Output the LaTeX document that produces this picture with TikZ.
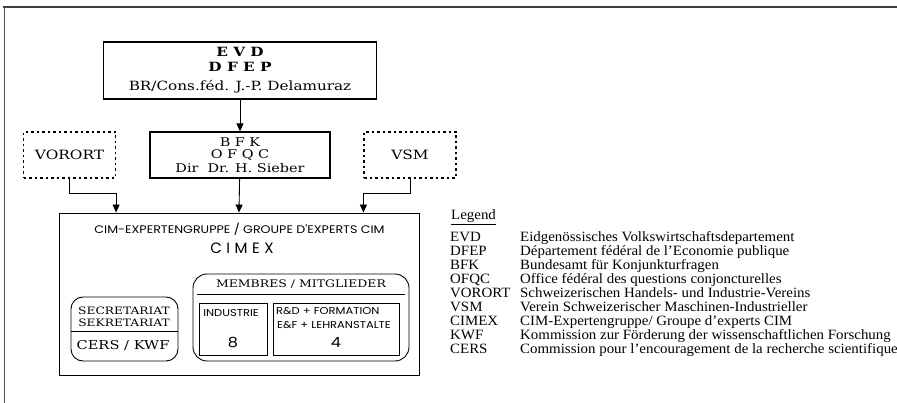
\documentclass[tikz,border=0pt]{standalone}
\usepackage{fontspec}
\setmainfont[FakeStretch=1.05]{Liberation Serif}
\newfontfamily\boxfont[FakeStretch=1.2]{DejaVu Serif}
\newfontfamily\geofont[FakeStretch=1.15]{Poppins}
\newfontfamily\geowide[LetterSpace=30]{Poppins}
\usetikzlibrary{arrows.meta}

\begin{document}
\begin{tikzpicture}[x=1pt,y=-1pt,
  dashbox/.style={draw,dash pattern=on 2.5pt off 3pt,line width=1.2pt,minimum width=92pt,minimum height=46pt,inner sep=0pt},
  link/.style={-{Triangle[length=8pt,width=7pt]},line width=0.9pt},
  legitem/.style={anchor=base west,inner sep=0pt,font=\fontsize{14.2}{15}\selectfont}]
\useasboundingbox (0,0) rectangle (897,403);
% frame
\draw[line width=1.6pt,black!75] (3,7) -- (897,7);
\draw[line width=0.8pt,black!70] (4,7) -- (4,403);

% top of the chart
\node[draw,line width=1.6pt,minimum width=273pt,minimum height=57pt,align=center,font=\boxfont\fontsize{12.7}{15}\selectfont] (evd) at (240,70.5) {\textbf{E V D}\\ \textbf{D F E P}\\[4pt] BR/Cons.féd. J.-P. Delamuraz};
\node[draw,line width=1.2pt,minimum width=180pt,minimum height=46pt,align=center,font=\boxfont\fontsize{12}{12}\selectfont] (bfk) at (240,155) {B F K\\ O F Q C\\[2.5pt] Dir\ \ Dr. H. Sieber};
\node[dashbox,font=\boxfont\fontsize{12.8}{14}\selectfont] (vorort) at (69.5,155) {VORORT};
\node[dashbox,font=\boxfont\fontsize{12.8}{14}\selectfont] (vsm) at (410,155) {VSM};

% CIMEX
\node[draw,line width=0.9pt,minimum width=360pt,minimum height=162pt] (cimex) at (239,294) {};
\node[font=\geofont\fontsize{11}{12}\selectfont] (cimtitle) at (239.5,229) {CIM-EXPERTENGRUPPE / GROUPE D'EXPERTS CIM};
\node[font=\geowide\fontsize{15}{18}\selectfont] (cimname) at (242,248) {CIMEX};

\node[draw,rounded corners=12pt,line width=0.9pt,minimum width=107pt,minimum height=64pt] (secr) at (124.5,329) {};
\draw[line width=0.8pt] ([yshift=-2pt]secr.west) -- ([yshift=-2pt]secr.east);
\node[font=\boxfont\fontsize{10.2}{11}\selectfont] (secrfr) at (124,311) {SECRETARIAT};
\node[font=\boxfont\fontsize{10.2}{11}\selectfont] (secrde) at (124,323) {SEKRETARIAT};
\node[font=\boxfont\fontsize{12.2}{14}\selectfont] (cers) at (123,346) {CERS / KWF};

\node[draw,rounded corners=14pt,line width=0.9pt,minimum width=216pt,minimum height=87pt] (members) at (301,317.5) {};
\node[font=\boxfont\fontsize{10.4}{11}\selectfont] (memtitle) at (301,284) {MEMBRES / MITGLIEDER};
\draw[line width=0.8pt] (197,294) -- (405,294);
\node[draw,line width=0.8pt,minimum width=68pt,minimum height=52pt] (indus) at (233,329) {};
\node[font=\geofont\fontsize{10}{10}\selectfont] (industxt) at (231,313) {INDUSTRIE};
\node[font=\geofont\fontsize{14}{15}\selectfont] (indusnum) at (233,343) {8};
\node[draw,line width=0.8pt,minimum width=126pt,minimum height=52pt] (rd) at (336,329) {};
\node[anchor=west,inner sep=0pt,font=\geofont\fontsize{10}{10}\selectfont] (rdtxt) at (276,311) {R\&D + FORMATION};
\node[anchor=west,inner sep=0pt,font=\geofont\fontsize{10}{10}\selectfont] (eftxt) at (277,325) {E\&F + LEHRANSTALTE};
\node[font=\geofont\fontsize{14}{15}\selectfont] (rdnum) at (336,342) {4};

% arrows
\draw[link] (evd) -- (bfk);
\draw[link] (bfk) -- (cimex.north);
\draw[link] (vorort.south) -- ++(0,15) -| (cimex.north -| vorort.east);
\draw[link] (vsm.south) -- ++(0,15) -| (cimex.north -| vsm.west);

% legend
\node[legitem] (legend) at (451,220) {\underline{Legend}};
\node[legitem] (k1) at (450,241.5) {EVD};
\node[legitem] (d1) at (520,241.5) {Eidgenössisches Volkswirtschaftsdepartement};
\node[legitem] (k2) at (450,255.5) {DFEP};
\node[legitem] (d2) at (520,255.5) {Département fédéral de l'Economie publique};
\node[legitem] (k3) at (450,269.5) {BFK};
\node[legitem] (d3) at (520,269.5) {Bundesamt für Konjunkturfragen};
\node[legitem] (k4) at (450,283.5) {OFQC};
\node[legitem] (d4) at (520,283.5) {Office fédéral des questions conjoncturelles};
\node[legitem] (k5) at (450,297.5) {VORORT};
\node[legitem] (d5) at (520,297.5) {Schweizerischen Handels- und Industrie-Vereins};
\node[legitem] (k6) at (450,311.5) {VSM};
\node[legitem] (d6) at (520,311.5) {Verein Schweizerischer Maschinen-Industrieller};
\node[legitem] (k7) at (450,325.5) {CIMEX};
\node[legitem] (d7) at (520,325.5) {CIM-Expertengruppe/ Groupe d'experts CIM};
\node[legitem] (k8) at (450,339.5) {KWF};
\node[legitem] (d8) at (520,339.5) {Kommission zur Förderung der wissenschaftlichen Forschung};
\node[legitem] (k9) at (450,353.5) {CERS};
\node[legitem] (d9) at (520,353.5) {Commission pour l'encouragement de la recherche scientifique};
\end{tikzpicture}
\end{document}
